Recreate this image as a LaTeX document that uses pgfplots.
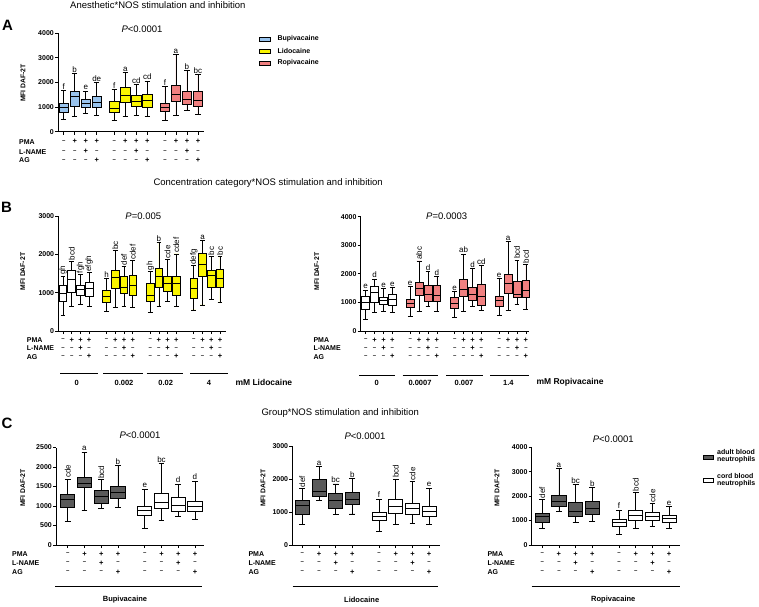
\documentclass[border=0pt]{standalone}
\usepackage{pgfplots}
\pgfplotsset{compat=1.18}
\usepgfplotslibrary{statistics}
\usepackage{fontspec}
\setmainfont{Liberation Sans}
\definecolor{bupi}{RGB}{153,196,238}
\definecolor{lido}{RGB}{250,245,0}
\definecolor{ropi}{RGB}{240,128,128}
\definecolor{adult}{RGB}{90,90,90}
\newcommand{\fs}[1]{\fontsize{#1}{#1}\selectfont}
\newcommand{\mn}{{\fs{6}\textendash}}
\pgfplotsset{
  gp/.style={
    scale only axis, anchor=south west, clip=false,
    axis lines=left, axis line style={-, line width=0.8pt, black},
    tick style={line width=0.8pt, black},
    tick align=outside, major tick length=3pt,
    ymin=0, xticklabels={},
    yticklabel style={font=\fs{7}\bfseries, inner sep=1pt},
    /pgf/number format/assume math mode=true,
    /pgf/number format/1000 sep={},
    scaled y ticks=false,
    boxplot/draw direction=y,
  },
}
\newcommand{\bx}[7]{\addplot[boxplot prepared={draw position=#1, lower whisker=#2, lower quartile=#3, median=#4, upper quartile=#5, upper whisker=#6}, draw=black, fill=#7, line width=0.8pt] coordinates {};}
\newcommand{\lb}[3]{\node[font=\fs{8}, anchor=south, inner sep=1pt] at (axis cs:#1,#2) {#3};}
\newcommand{\rl}[3]{\node[font=\fs{8}, anchor=west, rotate=90, inner sep=1pt] at (axis cs:#1,#2) {#3};}
\newcommand{\sg}[4]{%
\node[font=\fs{7.5}\bfseries, yshift=-\rowa pt] at (axis cs:#1,0) {#2};
\node[font=\fs{7.5}\bfseries, yshift=-\rowb pt] at (axis cs:#1,0) {#3};
\node[font=\fs{7.5}\bfseries, yshift=-\rowc pt] at (axis cs:#1,0) {#4};}
\newcommand{\sgg}[4]{\sg{#1}{\mn}{\mn}{\mn}\sg{#2}{+}{\mn}{\mn}\sg{#3}{+}{+}{\mn}\sg{#4}{+}{\mn}{+}}
\newcommand{\rows}[4]{%
\node[anchor=west, font=\fs{7}\bfseries, inner sep=0pt] at (#1pt,#2pt) {PMA};
\node[anchor=west, font=\fs{7}\bfseries, inner sep=0pt] at (#1pt,#3pt) {L-NAME};
\node[anchor=west, font=\fs{7}\bfseries, inner sep=0pt] at (#1pt,#4pt) {AG};}
\begin{document}
\begin{tikzpicture}
\path[use as bounding box] (0pt,0pt) rectangle (759pt,606pt);
% ---------------- Panel A
\node[anchor=west, font=\fs{9.5}] at (66.7pt,601pt) {Anesthetic*NOS stimulation and inhibition};
\node[font=\fs{15}\bfseries] at (7.5pt,581pt) {A};
\node[font=\fs{9.5}] at (142pt,577pt) {\textit{P}<0.0001};
\node[rotate=90, font=\fs{6.8}\bfseries] at (23pt,523pt) {MFI DAF-2T};
\def\rowa{10}\def\rowb{20}\def\rowc{28.6}
\begin{axis}[gp, at={(58pt,474.3pt)}, width=146pt, height=98.4pt,
  xmin=-0.52, xmax=12.75, ymax=4000, ytick={0,1000,2000,3000,4000},
  xtick={0,1,2,3,4.6,5.6,6.6,7.6,9.2,10.2,11.2,12.2},
  boxplot/box extend=0.85, boxplot/whisker extend=0.5]
\bx{0}{515}{773}{990}{1153}{1668}{bupi}
\bx{1}{610}{1017}{1451}{1654}{2373}{bupi}
\bx{2}{746}{976}{1153}{1315}{1654}{bupi}
\bx{3}{678}{990}{1193}{1424}{2007}{bupi}
\bx{4.6}{475}{786}{963}{1220}{1722}{lido}
\bx{5.6}{624}{1180}{1478}{1790}{2414}{lido}
\bx{6.6}{650}{1020}{1250}{1470}{1925}{lido}
\bx{7.6}{620}{1000}{1290}{1520}{2050}{lido}
\bx{9.2}{475}{841}{990}{1153}{1830}{ropi}
\bx{10.2}{651}{1247}{1519}{1871}{3146}{ropi}
\bx{11.2}{854}{1125}{1315}{1654}{2481}{ropi}
\bx{12.2}{719}{1044}{1288}{1654}{2319}{ropi}
\lb{0}{1668}{f}\lb{1}{2373}{b}\lb{2}{1654}{e}\lb{3}{2007}{de}
\lb{4.6}{1722}{f}\lb{5.6}{2414}{a}\lb{6.6}{1925}{cd}\lb{7.6}{2050}{cd}
\lb{9.2}{1830}{f}\lb{10.2}{3146}{a}\lb{11.2}{2481}{b}\lb{12.2}{2319}{bc}
\sgg{0}{1}{2}{3}\sgg{4.6}{5.6}{6.6}{7.6}\sgg{9.2}{10.2}{11.2}{12.2}
\end{axis}
\rows{19}{464.3}{454.3}{445.7}
\draw[fill=bupi, line width=0.7pt] (259pt,565pt) rectangle (270pt,569pt);
\draw[fill=lido, line width=0.7pt] (259pt,553pt) rectangle (270pt,557pt);
\draw[fill=ropi, line width=0.7pt] (259pt,541pt) rectangle (270pt,545pt);
\node[anchor=west, font=\fs{7}\bfseries] at (274pt,567pt) {Bupivacaine};
\node[anchor=west, font=\fs{7}\bfseries] at (274pt,555pt) {Lidocaine};
\node[anchor=west, font=\fs{7}\bfseries] at (274pt,543pt) {Ropivacaine};
% ---------------- Panel B
\node[anchor=west, font=\fs{9.5}] at (150pt,423pt) {Concentration category*NOS stimulation and inhibition};
\node[font=\fs{15}\bfseries] at (6.5pt,398.5pt) {B};
\node[font=\fs{9.5}] at (143.3pt,390pt) {\textit{P}=0.005};
\node[font=\fs{9.5}] at (446.7pt,389.3pt) {\textit{P}=0.0003};
\node[rotate=90, font=\fs{6.8}\bfseries] at (22.7pt,334.3pt) {MFI DAF-2T};
\node[rotate=90, font=\fs{6.8}\bfseries] at (316.7pt,334.3pt) {MFI DAF-2T};
\def\rowa{9}\def\rowb{17.3}\def\rowc{25.7}
\begin{axis}[gp, at={(58.3pt,275pt)}, width=167.4pt, height=115pt,
  xmin=-0.54, xmax=18.66, ymax=3000, ytick={0,1000,2000,3000},
  xtick={0,1,2,3,5,6,7,8,10,11,12,13,15,16,17,18},
  boxplot/box extend=0.88, boxplot/whisker extend=0.55]
\bx{0}{420}{770}{990}{1200}{1430}{white}
\bx{1}{650}{1000}{1350}{1570}{1820}{white}
\bx{2}{700}{930}{1080}{1190}{1480}{white}
\bx{3}{640}{900}{1110}{1270}{1520}{white}
\bx{5}{500}{750}{900}{1050}{1360}{lido}
\bx{6}{620}{1110}{1400}{1590}{2090}{lido}
\bx{7}{630}{970}{1140}{1420}{1680}{lido}
\bx{8}{620}{940}{1200}{1460}{1830}{lido}
\bx{10}{480}{770}{940}{1240}{1550}{lido}
\bx{11}{630}{1140}{1430}{1630}{2300}{lido}
\bx{12}{770}{1030}{1240}{1420}{1870}{lido}
\bx{13}{630}{940}{1230}{1420}{2010}{lido}
\bx{15}{550}{850}{1100}{1360}{1700}{lido}
\bx{16}{680}{1420}{1740}{2030}{2360}{lido}
\bx{17}{830}{1140}{1440}{1590}{1940}{lido}
\bx{18}{740}{1130}{1360}{1620}{1940}{lido}
\rl{0}{1430}{gh}\rl{1}{1820}{bcd}\rl{2}{1480}{fgh}\rl{3}{1520}{efgh}
\lb{5}{1360}{h}\rl{6}{2090}{bc}\rl{7}{1680}{def}\rl{8}{1830}{cdef}
\rl{10}{1550}{gh}\lb{11}{2300}{b}\rl{12}{1870}{cde}\rl{13}{2010}{cdef}
\rl{15}{1700}{defg}\lb{16}{2360}{a}\rl{17}{1940}{bc}\rl{18}{1940}{bc}
\sgg{0}{1}{2}{3}\sgg{5}{6}{7}{8}\sgg{10}{11}{12}{13}\sgg{15}{16}{17}{18}
\end{axis}
\rows{26.7}{266}{257.7}{249.3}
\begin{axis}[gp, at={(360.7pt,275pt)}, width=168.6pt, height=114.3pt,
  xmin=-0.56, xmax=18.38, ymax=4000, ytick={0,1000,2000,3000,4000},
  xtick={0,1,2,3,5,6,7,8,10,11,12,13,15,16,17,18},
  boxplot/box extend=0.88, boxplot/whisker extend=0.55]
\bx{0}{420}{770}{990}{1200}{1430}{white}
\bx{1}{650}{1000}{1350}{1570}{1820}{white}
\bx{2}{700}{930}{1080}{1190}{1480}{white}
\bx{3}{640}{900}{1110}{1270}{1520}{white}
\bx{5}{500}{830}{970}{1120}{1550}{ropi}
\bx{6}{700}{1240}{1490}{1690}{2450}{ropi}
\bx{7}{850}{1050}{1280}{1610}{2080}{ropi}
\bx{8}{700}{1050}{1240}{1590}{1900}{ropi}
\bx{10}{480}{790}{960}{1170}{1380}{ropi}
\bx{11}{680}{1220}{1470}{1820}{2690}{ropi}
\bx{12}{850}{1080}{1280}{1530}{2190}{ropi}
\bx{13}{710}{910}{1200}{1640}{2290}{ropi}
\bx{15}{540}{850}{1080}{1220}{1840}{ropi}
\bx{16}{730}{1320}{1670}{1990}{3130}{ropi}
\bx{17}{930}{1180}{1280}{1750}{2480}{ropi}
\bx{18}{760}{1170}{1430}{1780}{2330}{ropi}
\lb{0}{1430}{e}\lb{1}{1820}{d}\lb{2}{1480}{e}\lb{3}{1520}{e}
\lb{5}{1550}{e}\rl{6}{2450}{abc}\lb{7}{2080}{d}\lb{8}{1900}{d}
\lb{10}{1380}{e}\lb{11}{2690}{ab}\lb{12}{2190}{d}\lb{13}{2290}{cd}
\lb{15}{1840}{e}\lb{16}{3130}{a}\rl{17}{2480}{bcd}\rl{18}{2330}{bcd}
\sgg{0}{1}{2}{3}\sgg{5}{6}{7}{8}\sgg{10}{11}{12}{13}\sgg{15}{16}{17}{18}
\end{axis}
\rows{313.3}{266}{257.7}{249.3}
\draw[line width=0.8pt] (60pt,232.7pt) -- (97.7pt,232.7pt);
\draw[line width=0.8pt] (103.3pt,232.7pt) -- (143.3pt,232.7pt);
\draw[line width=0.8pt] (146.7pt,232.7pt) -- (183.3pt,232.7pt);
\draw[line width=0.8pt] (190pt,232.7pt) -- (227.7pt,232.7pt);
\draw[line width=0.8pt] (359.3pt,231pt) -- (395pt,231pt);
\draw[line width=0.8pt] (402.7pt,231pt) -- (438.3pt,231pt);
\draw[line width=0.8pt] (446pt,231pt) -- (482.7pt,231pt);
\draw[line width=0.8pt] (490pt,231pt) -- (529pt,231pt);
\foreach \xx/\tt in {76.7/0, 124/0.002, 165.7/0.02, 209/4, 376.7/0, 420/0.0007, 464/0.007, 508.3/1.4}
  \node[font=\fs{7.5}\bfseries] at (\xx pt,223.3pt) {\tt};
\node[anchor=west, font=\fs{8.5}\bfseries] at (232pt,223.3pt) {mM Lidocaine};
\node[anchor=west, font=\fs{8.5}\bfseries] at (533pt,223.3pt) {mM Ropivacaine};
% ---------------- Panel C
\node[anchor=west, font=\fs{9.5}] at (258pt,193.3pt) {Group*NOS stimulation and inhibition};
\node[font=\fs{15}\bfseries] at (7pt,183pt) {C};
\node[font=\fs{9.5}] at (140pt,171pt) {\textit{P}<0.0001};
\node[font=\fs{9.5}] at (365pt,169.3pt) {\textit{P}<0.0001};
\node[font=\fs{9.5}] at (613.3pt,167pt) {\textit{P}<0.0001};
\node[rotate=90, font=\fs{6.8}\bfseries] at (22.7pt,118pt) {MFI DAF-2T};
\node[rotate=90, font=\fs{6.8}\bfseries] at (263pt,118pt) {MFI DAF-2T};
\node[rotate=90, font=\fs{6.8}\bfseries] at (497pt,118pt) {MFI DAF-2T};
\def\rowa{9}\def\rowb{18}\def\rowc{27}
\begin{axis}[gp, at={(56pt,61pt)}, width=148pt, height=97.5pt,
  xmin=-0.70, xmax=8.14, ymax=2500, ytick={0,500,1000,1500,2000,2500},
  xtick={0,1,2,3,4.6,5.6,6.6,7.6},
  boxplot/box extend=0.85, boxplot/whisker extend=0.35]
\bx{0}{600}{970}{1180}{1300}{1690}{adult}
\bx{1}{880}{1480}{1580}{1740}{2380}{adult}
\bx{2}{940}{1070}{1240}{1390}{1670}{adult}
\bx{3}{960}{1200}{1340}{1500}{2030}{adult}
\bx{4.6}{430}{770}{900}{980}{1430}{white}
\bx{5.6}{620}{940}{1090}{1320}{2090}{white}
\bx{6.6}{730}{870}{1020}{1210}{1560}{white}
\bx{7.6}{660}{850}{1000}{1130}{1640}{white}
\rl{0}{1690}{cde}\lb{1}{2380}{a}\rl{2}{1670}{bcd}\lb{3}{2030}{b}
\lb{4.6}{1430}{e}\lb{5.6}{2090}{bc}\lb{6.6}{1560}{d}\lb{7.6}{1640}{d}
\sgg{0}{1}{2}{3}\sgg{4.6}{5.6}{6.6}{7.6}
\end{axis}
\rows{12}{52}{43}{34}
\begin{axis}[gp, at={(292.3pt,61pt)}, width=147.7pt, height=99pt,
  xmin=-0.6, xmax=8.25, ymax=3000, ytick={0,1000,2000,3000},
  xtick={0,1,2,3,4.6,5.6,6.6,7.6},
  boxplot/box extend=0.85, boxplot/whisker extend=0.35]
\bx{0}{610}{940}{1210}{1360}{1720}{adult}
\bx{1}{1360}{1460}{1620}{2000}{2370}{adult}
\bx{2}{930}{1110}{1360}{1550}{1850}{adult}
\bx{3}{940}{1240}{1390}{1590}{2020}{adult}
\bx{4.6}{420}{740}{860}{990}{1390}{white}
\bx{5.6}{630}{960}{1180}{1380}{2000}{white}
\bx{6.6}{640}{940}{1110}{1260}{1920}{white}
\bx{7.6}{630}{880}{1030}{1180}{1720}{white}
\rl{0}{1720}{def}\lb{1}{2370}{a}\lb{2}{1850}{bc}\lb{3}{2020}{b}
\lb{4.6}{1390}{f}\rl{5.6}{2000}{bcd}\rl{6.6}{1920}{cde}\lb{7.6}{1720}{e}
\sgg{0}{1}{2}{3}\sgg{4.6}{5.6}{6.6}{7.6}
\end{axis}
\rows{248.3}{52}{43}{34}
\begin{axis}[gp, at={(531.7pt,61pt)}, width=148.3pt, height=97.7pt,
  xmin=-0.63, xmax=8.25, ymax=4000, ytick={0,1000,2000,3000,4000},
  xtick={0,1,2,3,4.6,5.6,6.6,7.6},
  boxplot/box extend=0.85, boxplot/whisker extend=0.35]
\bx{0}{680}{910}{1160}{1300}{1870}{adult}
\bx{1}{1370}{1570}{1770}{2050}{3140}{adult}
\bx{2}{910}{1160}{1390}{1730}{2480}{adult}
\bx{3}{960}{1270}{1500}{1800}{2350}{adult}
\bx{4.6}{440}{780}{910}{1060}{1430}{white}
\bx{5.6}{680}{1000}{1230}{1430}{2160}{white}
\bx{6.6}{750}{1000}{1160}{1340}{1710}{white}
\bx{7.6}{680}{910}{1090}{1230}{1570}{white}
\rl{0}{1870}{def}\lb{1}{3140}{a}\lb{2}{2480}{bc}\lb{3}{2350}{b}
\lb{4.6}{1430}{f}\rl{5.6}{2160}{bcd}\rl{6.6}{1710}{cde}\lb{7.6}{1570}{e}
\sgg{0}{1}{2}{3}\sgg{4.6}{5.6}{6.6}{7.6}
\end{axis}
\rows{487.3}{52}{43}{34}
\draw[line width=0.8pt] (55pt,19.3pt) -- (201.7pt,19.3pt);
\draw[line width=0.8pt] (292.7pt,19.3pt) -- (438.3pt,19.3pt);
\draw[line width=0.8pt] (531.7pt,19.3pt) -- (680pt,19.3pt);
\node[font=\fs{7.5}\bfseries] at (125pt,6pt) {Bupivacaine};
\node[font=\fs{7.5}\bfseries] at (361.7pt,6pt) {Lidocaine};
\node[font=\fs{7.5}\bfseries] at (613.3pt,6pt) {Ropivacaine};
\draw[fill=adult, line width=0.7pt] (703pt,146.7pt) rectangle (713pt,150.7pt);
\draw[fill=white, line width=0.7pt] (703pt,123.3pt) rectangle (713pt,127.3pt);
\node[anchor=west, align=left, font=\fontsize{7}{6.8}\selectfont\bfseries, inner sep=0pt] at (717pt,150.2pt) {adult blood\\neutrophils};
\node[anchor=west, align=left, font=\fontsize{7}{6.8}\selectfont\bfseries, inner sep=0pt] at (717pt,125.7pt) {cord blood\\neutrophils};
\end{tikzpicture}
\end{document}
